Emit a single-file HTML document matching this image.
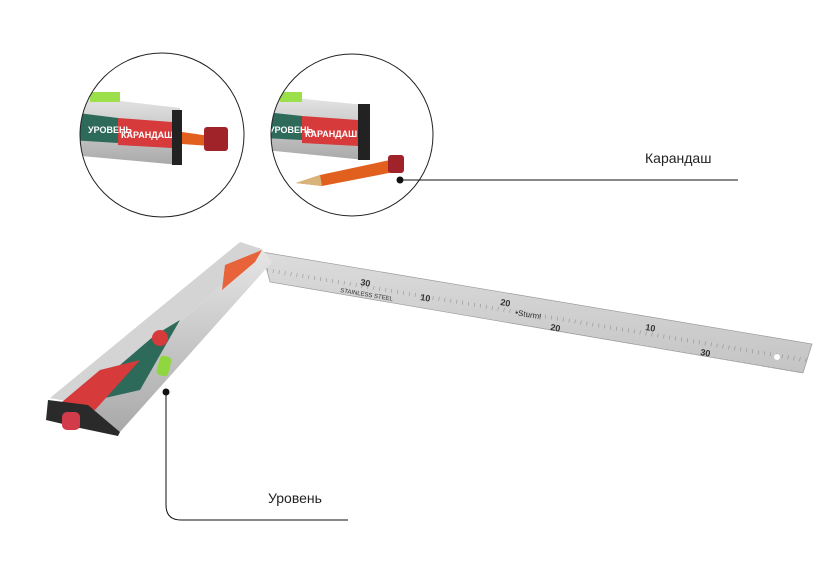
<!DOCTYPE html>
<html><head><meta charset="utf-8"><style>
html,body{margin:0;padding:0;background:#fff;}
body{width:820px;height:574px;overflow:hidden;position:relative;font-family:"Liberation Sans",sans-serif;}
</style></head><body>
<svg width="820" height="574" viewBox="0 0 820 574" xmlns="http://www.w3.org/2000/svg">
<defs>
<clipPath id="c1"><circle cx="162" cy="135" r="82"/></clipPath>
<clipPath id="c2"><circle cx="352" cy="135" r="81"/></clipPath>
<clipPath id="bl"><polygon points="262,252 812,344 803,373 270,282"/></clipPath>
<linearGradient id="al" x1="0" y1="0" x2="0" y2="1"><stop offset="0" stop-color="#e6e6e6"/><stop offset="1" stop-color="#a9a9a9"/></linearGradient>
<linearGradient id="st" x1="0" y1="0" x2="0" y2="1"><stop offset="0" stop-color="#dcdcdc"/><stop offset="1" stop-color="#c4c4c4"/></linearGradient>
<pattern id="tk" width="6" height="40" patternUnits="userSpaceOnUse"><line x1="0" y1="0" x2="0" y2="4" stroke="#555" stroke-width="0.6"/><line x1="0" y1="26" x2="0" y2="30" stroke="#555" stroke-width="0.6"/></pattern>
</defs>
<g clip-path="url(#c1)">
<polygon points="70,95 180,108 180,165 70,155" fill="url(#al)"/>
<rect x="90" y="92" width="30" height="10" fill="#9be04a"/>
<polygon points="70,112 118,118 118,143 70,140" fill="#2e6a5a"/>
<polygon points="118,118 172,122 172,148 118,145" fill="#d63a3a"/>
<text x="88" y="133" font-size="9" fill="#fff" font-weight="bold">УРОВЕНЬ</text>
<text x="121" y="138" font-size="9" fill="#fff" font-weight="bold">КАРАНДАШ</text>
<rect x="172" y="110" width="10" height="55" fill="#222"/>
<polygon points="182,132 210,136 210,146 182,144" fill="#e2601e"/>
<rect x="204" y="127" width="24" height="24" rx="3" fill="#a0232a"/>
</g>
<circle cx="162" cy="135" r="82" fill="none" stroke="#222" stroke-width="1"/>
<g clip-path="url(#c2)">
<polygon points="265,95 365,105 365,160 265,150" fill="url(#al)"/>
<rect x="280" y="92" width="22" height="10" fill="#9be04a"/>
<polygon points="265,112 302,116 302,140 265,138" fill="#2e6a5a"/>
<polygon points="302,116 358,120 358,146 302,143" fill="#d63a3a"/>
<text x="269" y="133" font-size="9" fill="#fff" font-weight="bold">УРОВЕНЬ</text>
<text x="305" y="137" font-size="9" fill="#fff" font-weight="bold">КАРАНДАШ</text>
<rect x="358" y="104" width="12" height="56" fill="#222"/>
<polygon points="296,183 320,175 390,160 394,172 322,186" fill="#e2601e"/>
<polygon points="296,183 320,175 322,186" fill="#d8b47a"/>
<rect x="388" y="155" width="16" height="18" rx="3" fill="#a0232a"/>
</g>
<circle cx="352" cy="135" r="81" fill="none" stroke="#222" stroke-width="1"/>
<circle cx="400" cy="180" r="3.5" fill="#111"/>
<line x1="400" y1="180" x2="738" y2="180" stroke="#111" stroke-width="1"/>
<text x="645" y="163" font-size="14" fill="#222">Карандаш</text>
<polygon points="262,252 812,344 803,373 270,282" fill="url(#st)" stroke="#9a9a9a" stroke-width="0.7"/>
<g clip-path="url(#bl)"><g transform="rotate(9.5 262 252)"><rect x="262" y="252" width="560" height="32" fill="url(#tk)" transform="translate(0,1)"/></g></g>
<g font-size="8" fill="#333">
<text x="360" y="285" transform="rotate(9.5 360 285)" font-size="9" font-weight="bold">30</text>
<text x="420" y="300" transform="rotate(9.5 420 300)" font-size="9" font-weight="bold">10</text>
<text x="500" y="305" transform="rotate(9.5 500 305)" font-size="9" font-weight="bold">20</text>
<text x="550" y="330" transform="rotate(9.5 550 330)" font-size="9" font-weight="bold">20</text>
<text x="645" y="330" transform="rotate(9.5 645 330)" font-size="9" font-weight="bold">10</text>
<text x="700" y="355" transform="rotate(9.5 700 355)" font-size="9" font-weight="bold">30</text>
<text x="515" y="315" transform="rotate(9.5 515 315)">•Sturm!</text>
<text x="340" y="292" transform="rotate(9.5 340 292)" font-size="6">STAINLESS STEEL</text>
</g>
<circle cx="777" cy="357" r="3" fill="#fff"/>
<polygon points="240,242 262,249 88,405 50,398" fill="#d4d4d4"/>
<polygon points="262,249 272,262 120,432 88,405" fill="url(#al)"/>
<polygon points="225,265 262,250 255,262 222,290" fill="#e8633a"/>
<polygon points="155,335 180,320 140,390 105,398 85,395" fill="#2e6a5a"/>
<polygon points="100,370 140,360 95,410 62,402" fill="#d63a3a"/>
<circle cx="160" cy="338" r="8" fill="#d63a3a"/>
<rect x="158" y="356" width="12" height="20" rx="4" fill="#8fd640" transform="rotate(15 164 366)"/>
<polygon points="48,400 88,405 120,432 118,436 80,428 46,420" fill="#2a2a2a"/>
<rect x="62" y="412" width="18" height="18" rx="5" fill="#d23b4a"/>
<circle cx="166" cy="392" r="3.5" fill="#111"/>
<path d="M166 392 V505 Q166 520 181 520 H348" fill="none" stroke="#111" stroke-width="1"/>
<text x="268" y="503" font-size="14" fill="#222">Уровень</text>
</svg>
</body></html>
